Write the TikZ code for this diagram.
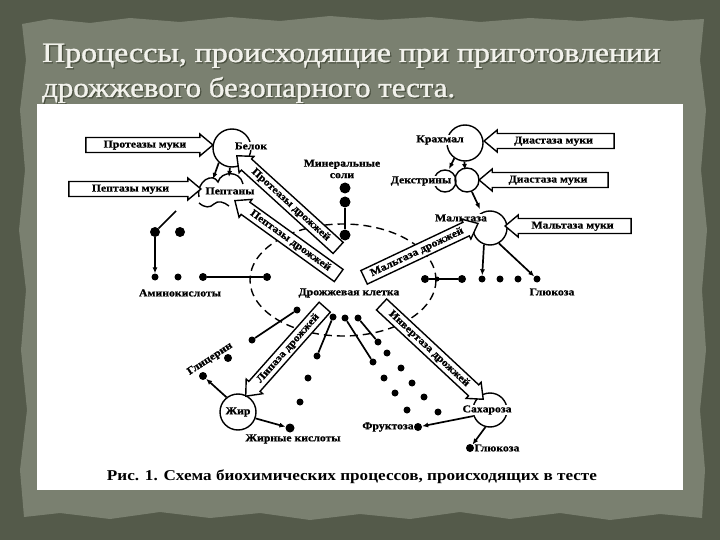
\documentclass[tikz,border=0pt]{standalone}
\usepackage{fontspec}
\setmainfont{Liberation Serif}
\newfontfamily\lblfont[FakeStretch=1.12, BoldFeatures={FakeBold=0.8}]{Liberation Serif}
\newfontfamily\ttlfont[FakeBold=1.2]{Liberation Serif}
\usetikzlibrary{shapes.arrows,arrows.meta,calc}
\definecolor{bgout}{HTML}{545A4A}
\definecolor{bgin}{HTML}{7A8070}
\definecolor{ttl}{HTML}{F2F2EC}
\definecolor{ttlshadow}{HTML}{4A5040}
\tikzset{
  lbl/.style={font=\lblfont\bfseries\fontsize{10.5}{11.5}\selectfont, fill=white, inner sep=0.8pt},
  lblclear/.style={font=\lblfont\bfseries\fontsize{10.5}{11.5}\selectfont, inner sep=0.8pt},
  sub/.style={circle, draw=black, line width=1.4pt, inner sep=0},
  conn/.style={line width=1.7pt},
  arr/.style={conn, -{Latex[length=6pt,width=5pt]}},
  dot/.style={circle, fill=black, inner sep=0, minimum size=7pt},
  enz/.style={single arrow, draw=black, line width=1.4pt, fill=white,
    single arrow head extend=3.5pt, single arrow tip angle=80,
    inner xsep=2pt, inner ysep=2.5pt, text height=6.8pt, text depth=1.8pt,
    font=\lblfont\bfseries\fontsize{10.5}{11.5}\selectfont, anchor=tip},
  flip/.style={shape border rotate=180},
  cellline/.style={line width=1.4pt, dash pattern=on 8pt off 5pt},
  ttlnode/.style={anchor=base west, inner sep=0, font=\ttlfont\fontsize{28}{28}\selectfont}
}
\begin{document}
\begin{tikzpicture}[x=1pt,y=-1pt]
\useasboundingbox (0,0) rectangle (720,540);
% background
\fill[bgout] (0,0) rectangle (720,540);
\fill[bgin] (22,24) -- (50,19) -- (90,23) -- (130,18) -- (180,22) -- (230,17) -- (280,21) -- (330,16) -- (380,20) -- (430,17) -- (480,22) -- (530,18) -- (580,21) -- (630,17) -- (670,21) -- (704,19)
 -- (700,60) -- (706,110) -- (701,170) -- (707,230) -- (702,290) -- (706,350) -- (700,410) -- (705,470) -- (702,518)
 -- (660,514) -- (610,520) -- (560,513) -- (510,519) -- (460,512) -- (410,519) -- (360,514) -- (310,520) -- (260,513) -- (210,518) -- (160,512) -- (110,519) -- (60,513) -- (24,517)
 -- (20,470) -- (27,410) -- (21,350) -- (26,290) -- (19,230) -- (25,170) -- (20,110) -- (26,60) -- cycle;
% title
\node[ttlnode, text=ttlshadow] (t1s) at (43.2,63.2) {\resizebox{618pt}{\height}{Процессы, происходящие при приготовлении}};
\node[ttlnode, text=ttlshadow] (t2s) at (43.2,98.2) {\resizebox{413pt}{\height}{дрожжевого безопарного теста.}};
\node[ttlnode, text=ttl] (t1) at (42,62) {\resizebox{618pt}{\height}{Процессы, происходящие при приготовлении}};
\node[ttlnode, text=ttl] (t2) at (42,97) {\resizebox{413pt}{\height}{дрожжевого безопарного теста.}};
% white panel
\fill[white] (37,104) rectangle (683,490);

% yeast cell
\draw[cellline] (343,280) ellipse [x radius=93, y radius=56];

% substrate shapes
\node[sub, minimum size=38pt] (belokc) at (232,148) {};
\node[sub, minimum size=36pt] (krc) at (465,143) {};
\node[sub, minimum size=22pt] (dxa) at (445,181) {};
\node[sub, minimum size=24pt] (dxb) at (467,180) {};
\node[sub, minimum size=34pt] (mlc) at (490,228) {};
\node[sub, minimum size=34pt] (sc) at (490,410) {};
\node[sub, minimum size=36pt, font=\lblfont\bfseries\fontsize{10.5}{11.5}\selectfont] (zhir) at (238,412) {Жир};
% Peptany cloud
\draw[line width=1.4pt] (199,197) .. controls (196,181) and (213,172) .. (218,182)
  .. controls (221,171) and (240,170) .. (243,184);
\draw[line width=1.4pt] (199,203) .. controls (205,208) and (210,208) .. (214,204)
  .. controls (218,200) and (224,202) .. (229,206);

% dots
\node[dot, minimum size=10pt] (am1) at (155,232) {};
\node[dot, minimum size=10pt] (am2) at (180,232) {};
\node[dot] (am3) at (155,277) {};
\node[dot] (am4) at (178,277) {};
\node[dot, minimum size=8pt] (am5) at (203,277) {};
\node[dot, minimum size=8pt] (am6) at (267,277) {};
\node[dot, minimum size=11pt] (ms1) at (345,188) {};
\node[dot, minimum size=11pt] (ms2) at (345,202) {};
\node[dot, minimum size=11pt] (ms3) at (345,235) {};
\node[dot, minimum size=8pt] (ga) at (425,279) {};
\node[dot, minimum size=5pt] (gb) at (437,279) {};
\node[dot, minimum size=8pt] (gc) at (462,279) {};
\node[dot] (g1) at (482,279) {};
\node[dot] (g2) at (500,279) {};
\node[dot] (g3) at (518,279) {};
\node[dot] (g4) at (537,279) {};
\node[dot] (c1) at (297,310) {};
\node[dot] (c2) at (252,340) {};
\node[dot] (c3) at (333,317) {};
\node[dot] (c4) at (317,356) {};
\node[dot] (c5) at (345,318) {};
\node[dot] (c6) at (373,362) {};
\node[dot] (c7) at (358,318) {};
\node[dot] (c8) at (378,342) {};
\node[dot] (f1) at (308,378) {};
\node[dot] (f2) at (300,402) {};
\node[dot] (f3) at (387,353) {};
\node[dot] (f4) at (401,368) {};
\node[dot] (f5) at (384,378) {};
\node[dot] (f6) at (412,383) {};
\node[dot] (f7) at (395,393) {};
\node[dot] (f8) at (424,397) {};
\node[dot] (f9) at (407,410) {};
\node[dot] (f10) at (438,412) {};
\node[dot, minimum size=8pt] (gl) at (203,376) {};
\node[dot, minimum size=8pt] (gl2) at (228,358) {};
\node[dot, minimum size=9pt] (zk) at (290,428) {};
\node[dot, minimum size=8pt] (fr) at (418,427) {};
\node[dot, minimum size=8pt] (gd) at (470,448) {};

% connectors
\coordinate (pep1) at (213,179);
\coordinate (pep2) at (229,177);
\coordinate (pepout) at (176,211);
\coordinate (dx1) at (449,169);
\coordinate (dx2) at (465,170);
\coordinate (dxo) at (472,192);
\coordinate (mlin) at (480,209);
\draw[arr] (belokc.228) -- (pep1);
\draw[arr] (belokc.264) -- (pep2);
\draw[conn] (pepout) -- (am1);
\draw[arr] (am1) -- (am3);
\draw[conn] (am5) -- (am6);
\draw[conn] (ms2) -- (ms3);
\draw[arr] (krc.235) -- (dx1);
\draw[arr] (krc.268) -- (dx2);
\draw[arr] (dxo) -- (mlin);
\draw[arr] (mlc.250) -- (g1);
\draw[arr] (mlc.300) -- (g4);
\draw[conn] (ga) -- (gc);
\draw[conn] (c1) -- (c2);
\draw[conn] (c3) -- (c4);
\draw[conn] (c5) -- (c6);
\draw[conn] (c7) -- (c8);
\draw[arr] (zhir.128) -- (gl);
\draw[arr] (zhir.-20) -- (zk);
\draw[arr] (sc.200) -- (fr);
\draw[arr] (sc.255) -- (gd);

% labels
\node[lbl] (belok) at (251,146) {Белок};
\node[lbl] (peptany) at (230,191) {Пептаны};
\node[lbl, align=center] (minsol) at (342,169) {Минеральные\\соли};
\node[lbl] (amino) at (180,293) {Аминокислоты};
\node[lbl] (cell) at (349,293) {Дрожжевая клетка};
\node[lbl] (krl) at (440,140) {Крахмал};
\node[lbl] (dxl) at (421,181) {Декстрины};
\node[lbl] (mll) at (461,218) {Мальтаза};
\node[lbl] (glu1) at (552,292) {Глюкоза};
\node[lblclear, rotate=33] (glic) at (210,359) {Глицерин};
\node[lbl] (zhk) at (293,439) {Жирные кислоты};
\node[lbl] (sah) at (487,410) {Сахароза};
\node[lbl] (fruk) at (388,427) {Фруктоза};
\node[lbl] (glu2) at (497,448) {Глюкоза};

% enzyme block arrows
\node[enz, minimum height=127pt] (e1) at (214,145) {Протеазы муки};
\node[enz, minimum height=132pt] (e2) at (202,189) {Пептазы муки};
\node[enz, flip, minimum height=130pt] (e3) at (483,141) {Диастаза муки};
\node[enz, flip, minimum height=129pt] (e4) at (478,180) {Диастаза муки};
\node[enz, flip, minimum height=126pt] (e5) at (504,226) {Мальтаза муки};
\node[enz, flip, rotate=-42.3, minimum height=137pt] (e6) at (236,155) {Протеазы дрожжей};
\node[enz, flip, rotate=-35.8, minimum height=128pt] (e7) at (234,200) {Пептазы дрожжей};
\node[enz, rotate=25.3, minimum height=126pt] (e8) at (479,223) {Мальтаза дрожжей};
\node[enz, flip, rotate=48.4, minimum height=119pt] (e9) at (245,397) {Липаза дрожжей};
\node[enz, rotate=-43, minimum height=139pt] (e10) at (484,400) {Инвертаза дрожжей};

% caption
\node[inner sep=0] (cap) at (352,477) {\resizebox{490pt}{\height}{\fontsize{15}{15}\selectfont\bfseries Рис. 1. Схема биохимических процессов, происходящих в тесте}};
\end{tikzpicture}
\end{document}
